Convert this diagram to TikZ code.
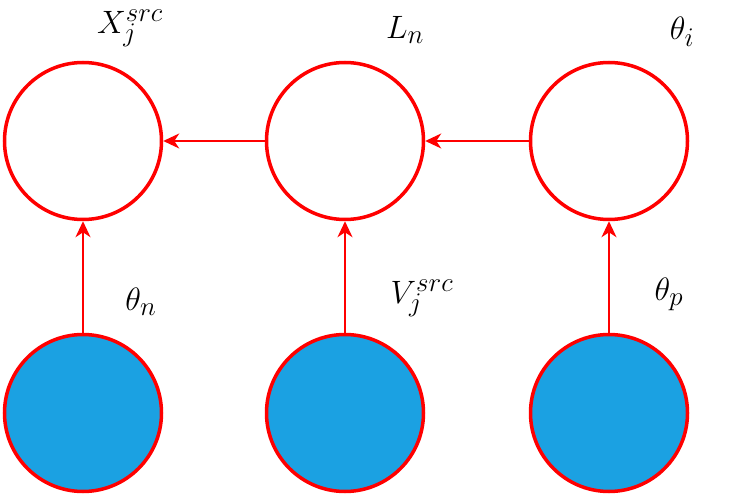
\documentclass[tikz,border=0pt]{standalone}
\usetikzlibrary{arrows.meta}
\definecolor{nodeblue}{HTML}{1BA1E2}
\begin{document}
\begin{tikzpicture}[x=1pt,y=-1pt,
  circ/.style={circle,draw=red,line width=3.5pt,minimum size=157pt,inner sep=0pt},
  filled/.style={circ,fill=nodeblue},
  conn/.style={draw=red,line width=2pt,-{Stealth[length=16pt,width=15pt,inset=5pt]}},
  lbl/.style={font=\Huge,scale=1.3}]
\useasboundingbox (0,0) rectangle (742,494);
\node[circ] (x) at (83,141) {};
\node[circ] (l) at (345,141) {};
\node[circ] (t) at (609,141) {};
\node[filled] (b1) at (83,413) {};
\node[filled] (b2) at (345,413) {};
\node[filled] (b3) at (609,413) {};
\draw[conn] (l) -- (x);
\draw[conn] (t) -- (l);
\draw[conn] (b1) -- (x);
\draw[conn] (b2) -- (l);
\draw[conn] (b3) -- (t);
\node[lbl] (lx) at (130,28) {$X_j^{src}$};
\node[lbl] (ll) at (405,30) {$L_n$};
\node[lbl] (lt) at (682,32) {$\theta_i$};
\node[lbl] (l1) at (141,302) {$\theta_n$};
\node[lbl] (l2) at (422,298) {$V_j^{src}$};
\node[lbl] (l3) at (669,294) {$\theta_p$};
\end{tikzpicture}
\end{document}
